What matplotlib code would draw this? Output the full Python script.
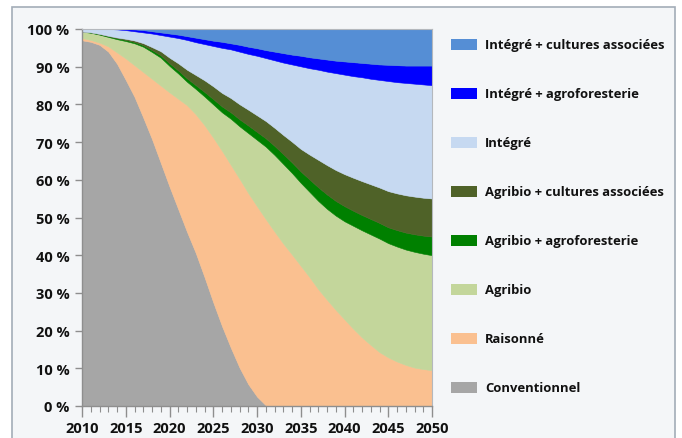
import matplotlib
matplotlib.use("Agg")
import matplotlib.pyplot as plt
from matplotlib.patches import Rectangle
from matplotlib.ticker import MultipleLocator

# ---------------- data (% of area, stacked bottom -> top) ----------------
years = list(range(2010, 2051))

conventionnel = [97.0, 96.6, 95.8, 94.0, 90.8, 86.5, 82.0, 76.5, 70.8, 64.5,
                 58.2, 52.2, 46.2, 40.6, 34.2, 27.5, 21.2, 15.5, 10.2, 5.8,
                 2.5, 0.2, 0, 0, 0, 0, 0, 0, 0, 0,
                 0, 0, 0, 0, 0, 0, 0, 0, 0, 0, 0]
raisonne = [0.6, 0.5, 0.6, 1.4, 3.0, 5.7, 8.4, 12.1, 16.0, 20.5,
            25.0, 29.3, 33.6, 36.8, 40.3, 43.7, 46.5, 48.5, 50.1, 50.7,
            50.5, 49.4, 46.3, 43.1, 40.2, 37.2, 34.2, 31.0, 28.2, 25.5,
            23.0, 20.5, 18.2, 16.2, 14.3, 12.9, 11.8, 10.9, 10.2, 9.8, 9.5]
agribio = [1.7, 1.9, 2.1, 2.5, 3.5, 4.6, 5.8, 6.7, 7.1, 7.4,
           7.0, 6.7, 6.2, 6.7, 7.6, 8.8, 10.2, 12.2, 13.9, 15.9,
           17.6, 19.2, 20.3, 21.1, 21.6, 22.0, 22.6, 23.4, 24.1, 25.0,
           26.0, 27.3, 28.4, 29.3, 30.1, 30.3, 30.5, 30.6, 30.7, 30.6, 30.5]
agribio_agrofor = [0, 0.1, 0.15, 0.2, 0.25, 0.3, 0.35, 0.4, 0.5, 0.6,
                   0.7, 0.8, 0.9, 1.0, 1.2, 1.4, 1.55, 1.7, 1.85, 2.0,
                   2.1, 2.2, 2.4, 2.6, 2.8, 3.0, 3.3, 3.6, 3.8, 3.9,
                   4.0, 4.0, 4.05, 4.1, 4.15, 4.2, 4.35, 4.5, 4.65, 4.8, 4.95]
agribio_cult = [0, 0, 0.05, 0.1, 0.2, 0.3, 0.4, 0.55, 0.8, 1.1,
                1.5, 1.9, 2.3, 2.7, 3.1, 3.4, 3.6, 3.8, 4.0, 4.2,
                4.4, 4.6, 4.8, 5.1, 5.5, 6.0, 6.6, 7.3, 7.8, 8.2,
                8.5, 8.75, 9.0, 9.2, 9.4, 9.6, 9.75, 9.9, 10.0, 10.05, 10.1]
integre = [0.7, 0.9, 1.3, 1.8, 2.15, 2.3, 2.45, 2.85, 3.6, 4.3,
           5.6, 6.7, 7.9, 8.7, 9.6, 10.7, 11.95, 12.9, 13.95, 14.8,
           15.8, 16.7, 17.9, 19.2, 20.5, 21.9, 22.9, 23.9, 24.8, 25.7,
           26.4, 26.95, 27.55, 28.0, 28.55, 29.2, 29.5, 29.8, 29.95, 30.05, 30.05]
integre_agrofor = [0, 0, 0, 0, 0.1, 0.3, 0.5, 0.6, 0.6, 0.7,
                   0.8, 0.9, 1.0, 1.2, 1.3, 1.4, 1.6, 1.6, 1.8, 1.9,
                   2.0, 2.1, 2.3, 2.5, 2.6, 2.8, 2.9, 3.0, 3.2, 3.3,
                   3.5, 3.7, 3.8, 4.0, 4.1, 4.3, 4.5, 4.6, 4.8, 5.0, 5.2]
integre_cult = [0, 0, 0, 0, 0, 0, 0.1, 0.3, 0.6, 0.9,
                1.2, 1.5, 1.9, 2.3, 2.7, 3.1, 3.4, 3.8, 4.2, 4.7,
                5.1, 5.6, 6.0, 6.4, 6.8, 7.1, 7.5, 7.8, 8.1, 8.4,
                8.6, 8.8, 9.0, 9.2, 9.4, 9.5, 9.6, 9.7, 9.7, 9.7, 9.7]

series_labels = ["Conventionnel", "Raisonné", "Agribio", "Agribio + agroforesterie",
                 "Agribio + cultures associées", "Intégré", "Intégré + agroforesterie",
                 "Intégré + cultures associées"]
series_colors = ["#A6A6A6", "#FAC090", "#C3D69B", "#008000",
                 "#4F6228", "#C6D9F1", "#0000FF", "#558ED5"]
y_ticks = list(range(0, 101, 10))
x_ticks = list(range(2010, 2051, 5))

# ---------------- figure ----------------
plt.rcParams["font.family"] = ["Open Sans", "DejaVu Sans"]
plt.rcParams["font.weight"] = "bold"

W, H = 682, 439
fig = plt.figure(figsize=(W / 100, H / 100), dpi=100)
fig.patch.set_facecolor("white")
panel = Rectangle((12 / W, -0.05), (675 - 12) / W, (439 - 8) / H + 0.05,
                  transform=fig.transFigure, facecolor="#F4F6F8",
                  edgecolor="#A3ADB8", lw=1.2, zorder=-5)
fig.patches.append(panel)

ax = fig.add_axes([82 / W, 1 - 407 / H, 350 / W, 377 / H])
ax.set_zorder(2)
polys = ax.stackplot(years, conventionnel, raisonne, agribio, agribio_agrofor,
                     agribio_cult, integre, integre_agrofor, integre_cult,
                     colors=series_colors, linewidth=0)
for p, c in zip(polys, series_colors):
    p.set_edgecolor(c)
    p.set_linewidth(0.4)

ax.set_xlim(2010, 2050)
ax.set_ylim(0, 100)
ax.set_facecolor("#F4F6F8")

ax.set_yticks(y_ticks)
ax.set_yticklabels([f"{v} %" for v in y_ticks])
ax.set_xticks(x_ticks)
ax.set_xticklabels([str(v) for v in x_ticks])
ax.xaxis.set_minor_locator(MultipleLocator(1))

for s in ["left", "bottom"]:
    ax.spines[s].set_color("#8E8E8E")
    ax.spines[s].set_linewidth(1.0)
for s in ["top", "right"]:
    ax.spines[s].set_color("#B4B8BD")
    ax.spines[s].set_linewidth(0.8)

ax.tick_params(axis="y", which="major", length=5, width=1, color="#8E8E8E",
               labelsize=10.5, pad=4, labelcolor="#111111")
ax.tick_params(axis="x", which="major", length=8, width=1, color="#8E8E8E",
               labelsize=10.5, pad=3, labelcolor="#111111")
ax.tick_params(axis="x", which="minor", length=4, width=0.8, color="#8E8E8E")

# ---------------- legend (top -> bottom) ----------------
for i, idx in enumerate(range(len(series_labels) - 1, -1, -1)):
    yc = 45.3 + i * 49.0
    fig.patches.append(Rectangle((451 / W, 1 - (yc + 5.5) / H), 26 / W, 11 / H,
                                 transform=fig.transFigure, zorder=3,
                                 facecolor=series_colors[idx], edgecolor="none"))
    fig.text(485 / W, 1 - yc / H, series_labels[idx], fontsize=9.4,
             va="center", ha="left", color="#111111", zorder=3)

fig.savefig("out.png", dpi=100, facecolor=fig.get_facecolor())
